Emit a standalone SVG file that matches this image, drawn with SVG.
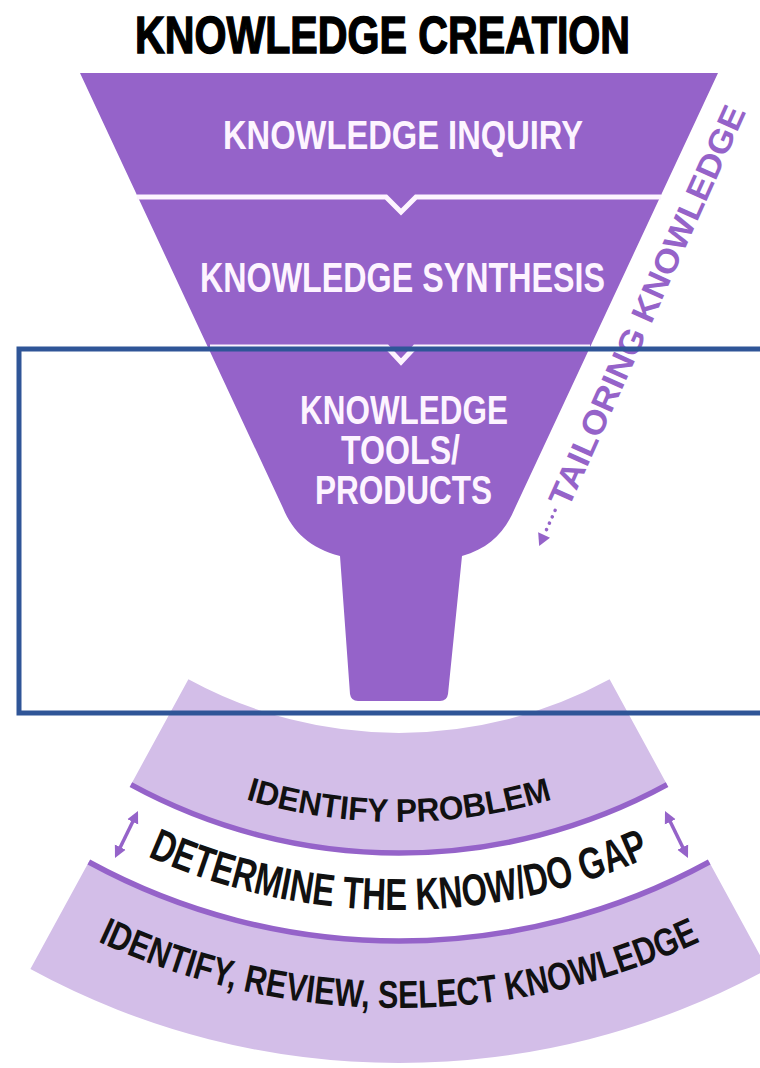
<svg xmlns="http://www.w3.org/2000/svg" width="760" height="1068" viewBox="0 0 760 1068">
<style>
.cond{font-family:"Liberation Sans","Arial",sans-serif;font-weight:bold}
.wt{fill:#fdf4ff}
.bk{fill:#111}
.purple{fill:#9563c9}
.light{fill:#d3bee8}
.band{fill:none;stroke:#9563c9;stroke-width:5.5}
.divider{fill:none;stroke:#fdf4ff;stroke-width:5}
.arrow{fill:none;stroke:#9563c9;stroke-width:3.5}
</style>
<defs>
<marker id="ah" viewBox="0 0 10 10" markerWidth="12" markerHeight="13" markerUnits="userSpaceOnUse" refX="6" refY="5" orient="auto-start-reverse">
<path d="M0,0 L10,5 L0,10 z" fill="#9563c9"/>
</marker>
<path id="p1" d="M 145.8 757.5 A 529 529 0 0 0 652.2 757.5"/>
<path id="p2" d="M 103.6 834.7 A 617 617 0 0 0 694.4 834.7"/>
<path id="p3" d="M 56.7 920.8 A 715 715 0 0 0 741.3 920.8"/>
</defs>
<rect width="760" height="1068" fill="#ffffff"/>

<g id="title">
<text class="cond" x="135" y="53" font-size="51" textLength="495" lengthAdjust="spacingAndGlyphs" fill="#000" stroke="#000" stroke-width="1.4">KNOWLEDGE CREATION</text>
</g>

<g id="funnel">
<path class="purple" d="M 80 73 H 718 L 515 508 C 505 532 490 548 462 556 L 448 694 Q 447 701 440 701 L 358 701 Q 351 701 350 694 L 340 556 C 310 548 293 532 283 508 Z"/>
</g>

<g id="fan">
<path class="light" d="M 188.4 679.3 A 440 440 0 0 0 609.6 679.3 L 667.1 784.7 A 560 560 0 0 1 130.9 784.7 Z"/>
<path class="light" d="M 88.8 862 A 648 648 0 0 0 709.2 862 L 767.6 969.1 A 770 770 0 0 1 30.4 969.1 Z"/>
<path class="band" d="M 130.9 784.7 A 560 560 0 0 0 667.1 784.7"/>
<path class="band" d="M 88.8 862 A 648 648 0 0 0 709.2 862"/>
</g>

<g id="connectors">
<path class="divider" d="M 137 197 L 386 197 L 401 212 L 416 197 L 661 197"/>
<path class="divider" d="M 210 347 L 387 347 L 401 362 L 415 347 L 590 347"/>
<path class="arrow" d="M 135.9 815.3 L 117.1 853.7" marker-start="url(#ah)" marker-end="url(#ah)"/>
<path class="arrow" d="M 667.1 815.3 L 685.9 853.7" marker-start="url(#ah)" marker-end="url(#ah)"/>
</g>

<g id="knowledge-inquiry">
<text class="cond wt" x="223" y="149" font-size="41" textLength="360" lengthAdjust="spacingAndGlyphs">KNOWLEDGE INQUIRY</text>
</g>
<g id="knowledge-synthesis">
<text class="cond wt" x="200" y="292" font-size="42" textLength="405" lengthAdjust="spacingAndGlyphs">KNOWLEDGE SYNTHESIS</text>
</g>
<g id="knowledge-tools">
<text class="cond wt" x="300" y="424" font-size="40" textLength="208" lengthAdjust="spacingAndGlyphs">KNOWLEDGE</text>
<text class="cond wt" x="341" y="464" font-size="40" textLength="119" lengthAdjust="spacingAndGlyphs">TOOLS/</text>
<text class="cond wt" x="315" y="504" font-size="40" textLength="177" lengthAdjust="spacingAndGlyphs">PRODUCTS</text>
</g>

<g id="identify-problem">
<text class="cond bk" font-size="33"><textPath href="#p1" startOffset="50%" text-anchor="middle" textLength="311" lengthAdjust="spacingAndGlyphs">IDENTIFY PROBLEM</textPath></text>
</g>
<g id="know-do-gap">
<text class="cond bk" font-size="45" fill="#000"><textPath href="#p2" startOffset="50%" text-anchor="middle" textLength="518" lengthAdjust="spacingAndGlyphs">DETERMINE THE KNOW/DO GAP</textPath></text>
</g>
<g id="select-knowledge">
<text class="cond bk" font-size="39"><textPath href="#p3" startOffset="50%" text-anchor="middle" textLength="622" lengthAdjust="spacingAndGlyphs">IDENTIFY, REVIEW, SELECT KNOWLEDGE</textPath></text>
</g>

<g id="tailoring-knowledge" transform="translate(558,504) rotate(-65.85)">
<path d="M -46 0 L -34 -6.5 L -34 6.5 Z" fill="#9563c9"/>
<circle cx="-28" cy="0" r="1.8" fill="#9563c9"/>
<circle cx="-21" cy="0" r="1.8" fill="#9563c9"/>
<circle cx="-14" cy="0" r="1.8" fill="#9563c9"/>
<circle cx="-7" cy="0" r="1.8" fill="#9563c9"/>
<text class="cond" x="0" y="11.5" font-size="33" fill="#9563c9" textLength="435" lengthAdjust="spacingAndGlyphs">TAILORING KNOWLEDGE</text>
</g>

<g id="highlight-box">
<rect x="19" y="349" width="800" height="364" fill="none" stroke="#2f5597" stroke-width="5"/>
</g>
</svg>
